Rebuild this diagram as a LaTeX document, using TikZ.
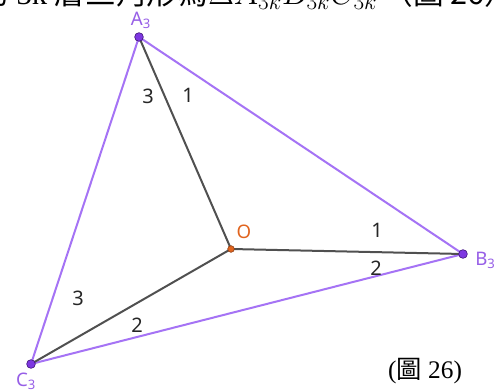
\documentclass[tikz,border=0pt]{standalone}
\usepackage{fontspec}
\setmainfont{Liberation Serif}
\newfontfamily\labelfont{Noto Sans}
\newfontfamily\cjk{Noto Sans CJK TC}
\definecolor{edgepurple}{RGB}{165,115,245}
\definecolor{ptpurple}{RGB}{125,55,225}
\definecolor{ptborder}{RGB}{70,25,130}
\definecolor{segray}{RGB}{80,80,80}
\definecolor{origin}{RGB}{225,100,30}
\tikzset{
  pt/.style={circle,fill=ptpurple,draw=ptborder,line width=0.5pt,inner sep=0pt,minimum size=6.5pt},
  vlabel/.style={text=ptpurple!80,font=\labelfont\fontsize{14}{16}\selectfont,inner sep=0pt},
  num/.style={text=black!85,font=\labelfont\fontsize{15}{17}\selectfont,inner sep=0pt},
  side/.style={edgepurple,line width=1.5pt},
  seg/.style={segray,line width=1.5pt}
}
\begin{document}
\begin{tikzpicture}[x=0.75pt,y=-0.75pt]
  \useasboundingbox (0,0) rectangle (496,392);
  \fill[white] (0,0) rectangle (496,392);
  \clip (0,0) rectangle (496,392);
  % cut-off line of the text above
  \node[anchor=base west,inner sep=0pt,font=\fontsize{23}{26}\selectfont]
    (caption) at (-22,5) {{\cjk 的} 3k {\cjk 層三角形為}$\Delta A_{3k}B_{3k}C_{3k}$\,{\cjk （圖 26）}};
  \coordinate (A) at (139,37);
  \coordinate (B) at (463,254);
  \coordinate (C) at (31,364);
  \coordinate (O) at (231,249);
  % triangle
  \draw[side] (A) -- (B) -- (C) -- cycle;
  % segments from O
  \draw[seg] (O) -- (A);
  \draw[seg] (O) -- (B);
  \draw[seg] (O) -- (C);
  \node[pt] (dotA) at (A) {};
  \node[pt] (dotB) at (B) {};
  \node[pt] (dotC) at (C) {};
  \node[circle,fill=origin,draw=origin!60!black,line width=0.4pt,inner sep=0pt,minimum size=5pt] (dotO) at (O) {};
  % labels
  \node[vlabel] (labA) at (141,20) {A\textsubscript{3}};
  \node[vlabel,anchor=west] (labB) at (475,260) {B\textsubscript{3}};
  \node[vlabel] (labC) at (26,381) {C\textsubscript{3}};
  \node[vlabel,text=origin] (labO) at (244,232) {O};
  \node[num] (nA1) at (148,96) {3};
  \node[num] (nA2) at (188,95) {1};
  \node[num] (nB1) at (377,230) {1};
  \node[num] (nB2) at (376,268) {2};
  \node[num] (nC1) at (78,298) {3};
  \node[num] (nC2) at (137,325) {2};
  \node[font=\fontsize{19}{21}\selectfont,inner sep=0pt] (fig) at (425,371) {({\cjk 圖} 26)};
\end{tikzpicture}
\end{document}
